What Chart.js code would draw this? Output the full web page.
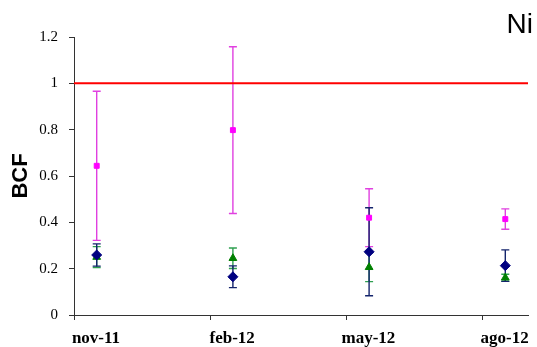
<!DOCTYPE html>
<html>
<head>
<meta charset="utf-8">
<script src="https://cdn.jsdelivr.net/npm/chart.js@4/dist/chart.umd.min.js"></script>
<style>
  body { margin: 0; background: #fff; }
</style>
</head>
<body>
<canvas id="bcf-chart" width="537" height="347"></canvas>
<script>
// x axis: months since nov-11, ticks every 3 months, samples mid-month
const tickLabels = ['nov-11', 'feb-12', 'may-12', 'ago-12'];
const tickMonths = [0, 3, 6, 9];
const sampleMonths = [0.5, 3.5, 6.5, 9.5];

const magentaMean = [0.644, 0.798, 0.420, 0.414];
const magentaErr  = [0.322, 0.360, 0.125, 0.044];
const greenMean   = [0.250, 0.245, 0.206, 0.161];
const greenErr    = [0.045, 0.044, 0.062, 0.015];
const blueMean    = [0.259, 0.165, 0.273, 0.213];
const blueErr     = [0.048, 0.047, 0.190, 0.068];

const refLevel = 1;
const yTicks = [0, 0.2, 0.4, 0.6, 0.8, 1.0, 1.2];

const pts = (ys) => ys.map((y, i) => ({ x: sampleMonths[i], y: y }));

const errorSeries = [
    { mean: magentaMean, err: magentaErr, color: '#E040E0' },
    { mean: greenMean, err: greenErr, color: '#2FA050' },
    { mean: blueMean, err: blueErr, color: '#14246C' }
];

// error bars drawn under the markers
const errorBars = {
    id: 'errorBars',
    beforeDatasetsDraw(chart) {
        const ctx = chart.ctx;
        const xs = chart.scales.x, ys = chart.scales.y;
        ctx.save();
        ctx.lineWidth = 1.4;
        errorSeries.forEach(s => {
            ctx.strokeStyle = s.color;
            s.mean.forEach((m, i) => {
                const x = xs.getPixelForValue(sampleMonths[i]);
                const top = ys.getPixelForValue(m + s.err[i]);
                const bot = ys.getPixelForValue(m - s.err[i]);
                ctx.beginPath();
                ctx.moveTo(x, top); ctx.lineTo(x, bot);
                ctx.moveTo(x - 4, top); ctx.lineTo(x + 4, top);
                ctx.moveTo(x - 4, bot); ctx.lineTo(x + 4, bot);
                ctx.stroke();
            });
        });
        ctx.restore();
    }
};

const elementLabel = {
    id: 'elementLabel',
    afterDraw(chart) {
        const ctx = chart.ctx;
        ctx.save();
        ctx.font = '28px "Liberation Sans", Arial, sans-serif';
        ctx.fillStyle = '#000';
        ctx.textAlign = 'right';
        ctx.textBaseline = 'alphabetic';
        ctx.fillText('Ni', 533, 33);
        ctx.restore();
    }
};

new Chart(document.getElementById('bcf-chart'), {
    type: 'scatter',
    data: {
        datasets: [
            {
                data: pts(blueMean),
                pointStyle: 'rectRot',
                pointRadius: 5,
                backgroundColor: '#000080',
                borderColor: '#000080',
                borderWidth: 1
            },
            {
                data: pts(greenMean),
                pointStyle: 'triangle',
                pointRadius: 4.5,
                backgroundColor: '#008000',
                borderColor: '#008000',
                borderWidth: 1
            },
            {
                data: pts(magentaMean),
                pointStyle: 'rect',
                pointRadius: 3.5,
                backgroundColor: '#FF00FF',
                borderColor: '#FF00FF',
                borderWidth: 1
            },
            {
                type: 'line',
                data: [{ x: 0, y: refLevel }, { x: 10, y: refLevel }],
                borderColor: '#FF0000',
                borderWidth: 2,
                pointRadius: 0
            }
        ]
    },
    options: {
        responsive: false,
        animation: false,
        events: [],
        layout: { padding: { top: 37, right: 9, left: 0, bottom: 0 } },
        plugins: {
            legend: { display: false },
            tooltip: { enabled: false }
        },
        scales: {
            x: {
                type: 'linear',
                min: 0,
                max: 10,
                afterBuildTicks: (scale) => { scale.ticks = tickMonths.map(v => ({ value: v })); },
                afterFit: (scale) => { scale.height = 32; },
                ticks: {
                    callback: (v) => tickLabels[tickMonths.indexOf(v)],
                    labelOffset: 22,
                    padding: 8,
                    maxRotation: 0,
                    color: '#000',
                    font: { family: '"Liberation Serif", "Times New Roman", serif', size: 17, weight: 'bold' }
                },
                grid: { drawOnChartArea: false, drawTicks: true, tickLength: 5, color: '#333' },
                border: { color: '#333', width: 1 }
            },
            y: {
                min: 0,
                max: 1.2,
                afterBuildTicks: (scale) => { scale.ticks = yTicks.map(v => ({ value: v })); },
                afterFit: (scale) => { scale.width = 74; },
                ticks: {
                    callback: (v) => String(+v.toFixed(1)),
                    padding: 11,
                    color: '#000',
                    font: { family: '"Liberation Serif", "Times New Roman", serif', size: 15 }
                },
                grid: { drawOnChartArea: false, drawTicks: true, tickLength: 5, color: '#333' },
                border: { color: '#333', width: 1 },
                title: {
                    display: true,
                    text: 'BCF',
                    color: '#000',
                    padding: { top: 8, bottom: 0 },
                    font: { family: '"Liberation Sans", Arial, sans-serif', size: 22, weight: 'bold' }
                }
            }
        }
    },
    plugins: [errorBars, elementLabel]
});
</script>
</body>
</html>
